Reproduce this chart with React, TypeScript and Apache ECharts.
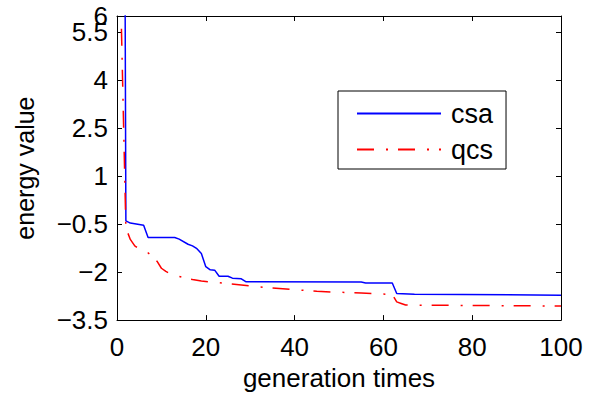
import React, { useEffect, useRef } from "react";
import * as echarts from "echarts";

const seriesNames = ["csa", "qcs"];

const csaPoints: [number, number][] = [
  [1, 40], [2, -0.4], [3, -0.47], [6, -0.54], [7, -0.92], [13, -0.92],
  [14, -0.97], [16, -1.13], [17, -1.18], [18, -1.27], [19, -1.42], [20, -1.83],
  [21, -1.93], [22, -1.94], [23, -2.13], [25, -2.13], [26, -2.19], [28, -2.21],
  [29, -2.3], [55, -2.31], [56, -2.34], [62, -2.34], [63, -2.67], [67, -2.69],
  [100, -2.72],
];

const qcsPoints: [number, number][] = [
  [1, 5.6], [2, -0.62], [3, -0.98], [4, -1.18], [5, -1.28], [6, -1.34],
  [7, -1.4], [8, -1.5], [9, -1.66], [10, -1.88], [11, -1.98], [12, -2.05],
  [13, -2.1], [15, -2.17], [17, -2.23], [19, -2.28], [22, -2.32], [25, -2.36],
  [28, -2.4], [31, -2.45], [35, -2.5], [40, -2.55], [45, -2.6], [50, -2.63],
  [55, -2.65], [59, -2.68], [62, -2.7], [63, -2.93], [64, -2.98], [65, -3.03],
  [100, -3.06],
];

const xMin = 0;
const xMax = 100;
const xInterval = 20;
const yMin = -3.5;
const yMax = 6;
const yInterval = 1.5;
const yTopLabel = 6;

const FONT = "'Liberation Sans', Arial, Helvetica, sans-serif";

const fmt = (v: number) => (v < 0 ? "\u2212" + String(Math.abs(v)) : String(v));

export default function App() {
  const ref = useRef<HTMLDivElement>(null);

  useEffect(() => {
    if (!ref.current) return;
    const chart = echarts.init(ref.current, null, { renderer: "svg" });

    const axisLine = { show: true, onZero: false, lineStyle: { color: "#000", width: 1 } };
    const tick = { show: true, inside: true, length: 5, lineStyle: { color: "#000", width: 1 } };
    const labelStyle = { fontFamily: FONT, fontSize: 26, color: "#000" };

    chart.setOption({
      animation: false,
      backgroundColor: "#fff",
      textStyle: { fontFamily: FONT },
      grid: { left: 117, right: 32, top: 16, bottom: 64, containLabel: false },
      legend: {
        data: seriesNames,
        orient: "vertical",
        left: 338,
        top: 91,
        selectedMode: false,
        backgroundColor: "#fff",
        borderColor: "#000",
        borderWidth: 1,
        padding: [9, 13, 6, 18],
        itemWidth: 84,
        itemHeight: 26,
        itemGap: 9,
        itemStyle: { opacity: 0 },
        textStyle: {
          fontFamily: FONT,
          fontSize: 27,
          color: "#000",
          lineHeight: 26,
          padding: [0, 0, 0, 5],
        },
      },
      xAxis: [
        {
          type: "value",
          position: "bottom",
          min: xMin,
          max: xMax,
          interval: xInterval,
          name: "generation times",
          nameLocation: "middle",
          nameGap: 40,
          nameTextStyle: { fontFamily: FONT, fontSize: 26, color: "#000" },
          axisLine,
          axisTick: tick,
          axisLabel: { ...labelStyle, margin: 14 },
          splitLine: { show: false },
        },
        {
          type: "value",
          position: "top",
          min: xMin,
          max: xMax,
          interval: xInterval,
          axisLine,
          axisTick: tick,
          axisLabel: { show: false },
          splitLine: { show: false },
        },
      ],
      yAxis: [
        {
          type: "value",
          position: "left",
          min: yMin,
          max: yMax,
          interval: yInterval,
          name: "energy value",
          nameLocation: "middle",
          nameRotate: 90,
          nameGap: 80,
          nameTextStyle: { fontFamily: FONT, fontSize: 25, color: "#000" },
          axisLine,
          axisTick: tick,
          axisLabel: {
            ...labelStyle,
            margin: 9,
            showMaxLabel: false,
            showMinLabel: true,
            formatter: fmt,
          },
          splitLine: { show: false },
        },
        {
          type: "value",
          position: "right",
          min: yMin,
          max: yMax,
          interval: yInterval,
          axisLine,
          axisTick: tick,
          axisLabel: { show: false },
          splitLine: { show: false },
        },
        {
          type: "value",
          position: "left",
          min: yMin,
          max: yMax,
          interval: yMax - yMin,
          axisLine: { show: false, onZero: false },
          axisTick: { show: false },
          axisLabel: {
            ...labelStyle,
            margin: 9,
            showMaxLabel: true,
            formatter: (v: number) => (v === yTopLabel ? String(yTopLabel) : ""),
          },
          splitLine: { show: false },
        },
      ],
      series: [
        {
          name: seriesNames[0],
          type: "line",
          xAxisIndex: 0,
          yAxisIndex: 0,
          data: csaPoints,
          symbol: "none",
          clip: true,
          lineStyle: { color: "#0000ff", width: 1.5, type: "solid" },
          itemStyle: { color: "#0000ff" },
        },
        {
          name: seriesNames[1],
          type: "line",
          xAxisIndex: 0,
          yAxisIndex: 0,
          data: qcsPoints,
          symbol: "none",
          clip: true,
          lineStyle: { color: "#ff0000", width: 1.5, type: [17, 12, 2, 10] },
          itemStyle: { color: "#ff0000" },
        },
      ],
    });

    return () => chart.dispose();
  }, []);

  return (
    <div
      ref={ref}
      style={{ position: "fixed", left: 0, top: 0, width: 593, height: 396 }}
    />
  );
}
